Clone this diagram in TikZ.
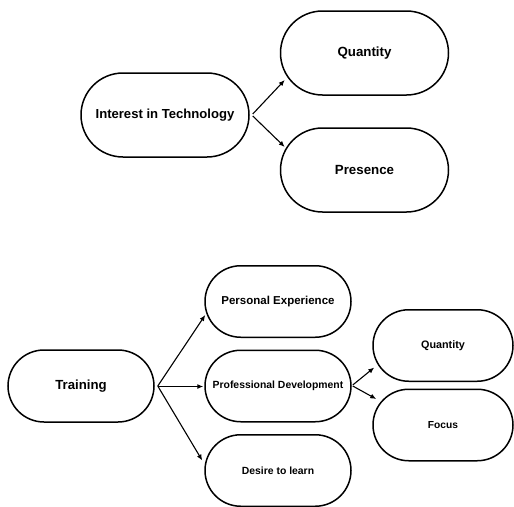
\documentclass[tikz,border=0pt]{standalone}
\usepackage{fontspec}
\setmainfont{Liberation Sans}
\usetikzlibrary{shapes.misc,arrows.meta}
\begin{document}
\begin{tikzpicture}[x=1pt,y=-1pt,
  pill/.style={rounded rectangle, draw=black, line width=1.5pt, inner sep=0pt,
    text=black, font=\bfseries},
  bigpill/.style={pill, minimum width=168pt, minimum height=84pt},
  smallpill/.style={pill, minimum width=146pt, minimum height=71.5pt},
  sidepill/.style={pill, minimum width=140pt, minimum height=71.5pt},
  arr/.style={line width=1.1pt, -{Latex[length=6pt,width=5pt]}}]
\useasboundingbox (0,0) rectangle (514,506);
% top group
\node[bigpill, font=\fontsize{13.1}{15}\selectfont\bfseries] (it) at (165,115) {Interest in Technology};
\node[bigpill, font=\fontsize{13.3}{15}\selectfont\bfseries] (q1) at (364.5,53) {Quantity};
\node[bigpill, font=\fontsize{13.3}{15}\selectfont\bfseries] (pr) at (364.5,170) {Presence};
\draw[arr] ([shift={(3,-1)}]it.east) -- ([shift={(5,27)}]q1.west);
\draw[arr] ([shift={(3,1)}]it.east) -- ([shift={(5,-23)}]pr.west);
% bottom group
\node[smallpill, minimum height=72pt, font=\fontsize{13.2}{15}\selectfont\bfseries] (tr) at (81,386) {Training};
\node[smallpill, font=\fontsize{11.5}{13}\selectfont\bfseries] (pe) at (278,301.5) {Personal Experience};
\node[smallpill, font=\fontsize{10.4}{12}\selectfont\bfseries] (pd) at (278,386) {Professional Development};
\node[smallpill, font=\fontsize{10.4}{12}\selectfont\bfseries] (dl) at (278,470.5) {Desire to learn};
\node[sidepill, font=\fontsize{10.8}{12}\selectfont\bfseries] (q2) at (443,345.5) {Quantity};
\node[sidepill, font=\fontsize{10.2}{12}\selectfont\bfseries] (fo) at (443,425) {Focus};
\draw[arr] ([shift={(3,0)}]tr.east) -- ([shift={(1,13.5)}]pe.west);
\draw[arr] ([shift={(3,0.5)}]tr.east) -- ([shift={(-1,0.5)}]pd.west);
\draw[arr] ([shift={(3,0)}]tr.east) -- ([shift={(-2,-10)}]dl.west);
\draw[arr] ([shift={(1,-1)}]pd.east) -- ([shift={(2,22)}]q2.west);
\draw[arr] ([shift={(1,0)}]pd.east) -- ([shift={(4,-26)}]fo.west);
\end{tikzpicture}
\end{document}
